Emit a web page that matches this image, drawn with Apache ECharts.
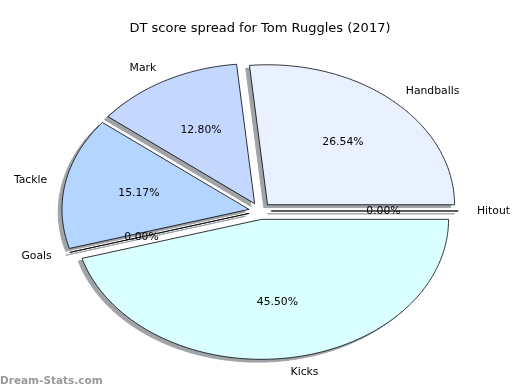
<!DOCTYPE html>
<html>
<head>
<meta charset="utf-8">
<script src="https://cdn.jsdelivr.net/npm/echarts@6/dist/echarts.min.js"></script>
<style>
  html, body { margin: 0; padding: 0; background: #fff; }
  #main { width: 520px; height: 390px; }
</style>
</head>
<body>
<div id="main"></div>
<script>
// DT score per stat type (percentages are worked out from these)
var categories = ['Handballs', 'Mark', 'Tackle', 'Goals', 'Kicks', 'Hitout'];
var scores = [56, 27, 32, 0, 96, 0];
var colours = ['#e9f0ff', '#c4d8ff', '#b4d5ff', '#c8dcff', '#d9ffff', '#e4f4ff'];

var chart = echarts.init(document.getElementById('main'));

// ellipse layout (pie is stretched, not round)
var CX = 260, CY = 211, RX = 187, RY = 140;
var EXPLODE = 0.06;
var LABEL_DIST = 1.1, PCT_DIST = 0.6;

var total = scores.reduce(function (a, b) { return a + b; }, 0);
var starts = [];
var acc = 0;
scores.forEach(function (v) { starts.push(acc); acc += v; });

function wedgePoints(ox, oy, a0, a1) {
    var pts = [[ox, oy]];
    var steps = Math.max(2, Math.ceil((a1 - a0) / 0.01));
    for (var k = 0; k <= steps; k++) {
        var a = a0 + (a1 - a0) * k / steps;
        pts.push([ox + RX * Math.cos(a), oy - RY * Math.sin(a)]);
    }
    return pts;
}

function renderItem(params, api) {
    var i = params.dataIndex;
    var v = api.value(0);
    var a0 = starts[i] / total * Math.PI * 2;
    var a1 = (starts[i] + v) / total * Math.PI * 2;
    var mid = (a0 + a1) / 2;
    var ox = CX + EXPLODE * RX * Math.cos(mid);
    var oy = CY - EXPLODE * RY * Math.sin(mid);

    var pts = wedgePoints(ox, oy, a0, a1);
    var shadowPts = pts.map(function (p) { return [p[0] - 0.02 * RX, p[1] + 0.02 * RY]; });

    var lx = ox + LABEL_DIST * RX * Math.cos(mid);
    var ly = oy - LABEL_DIST * RY * Math.sin(mid);
    var px = ox + PCT_DIST * RX * Math.cos(mid);
    var py = oy - PCT_DIST * RY * Math.sin(mid);

    return {
        type: 'group',
        children: [{
            type: 'polygon',
            z2: 1,
            shape: { points: shadowPts },
            style: { fill: '#a0a3a8', stroke: '#a0a3a8', lineWidth: 1 }
        }, {
            type: 'polygon',
            z2: 5,
            shape: { points: pts },
            style: { fill: colours[i], stroke: '#000', lineWidth: 0.8 }
        }, {
            type: 'text',
            z2: 10,
            style: {
                text: categories[i],
                x: lx, y: ly,
                fill: '#000',
                font: '10.8px "DejaVu Sans"',
                align: lx > CX ? 'left' : 'right',
                verticalAlign: 'middle'
            }
        }, {
            type: 'text',
            z2: 10,
            style: {
                text: (v / total * 100).toFixed(2) + '%',
                x: px, y: py,
                fill: '#000',
                font: '10.8px "DejaVu Sans"',
                align: 'center',
                verticalAlign: 'middle'
            }
        }]
    };
}

var option = {
    backgroundColor: '#fff',
    animation: false,
    title: {
        text: 'DT score spread for Tom Ruggles (2017)',
        left: 'center',
        top: 17,
        textStyle: {
            fontFamily: 'DejaVu Sans',
            fontSize: 13,
            fontWeight: 'normal',
            color: '#000'
        }
    },
    graphic: [{
        type: 'text',
        left: 0,
        bottom: 3,
        style: {
            text: 'Dream-Stats.com',
            fill: '#9a9a9a',
            font: 'bold 10.5px "DejaVu Sans"'
        }
    }],
    series: [{
        type: 'custom',
        coordinateSystem: 'none',
        silent: true,
        renderItem: renderItem,
        data: scores.map(function (v) { return [v]; })
    }]
};

chart.setOption(option);
</script>
</body>
</html>
